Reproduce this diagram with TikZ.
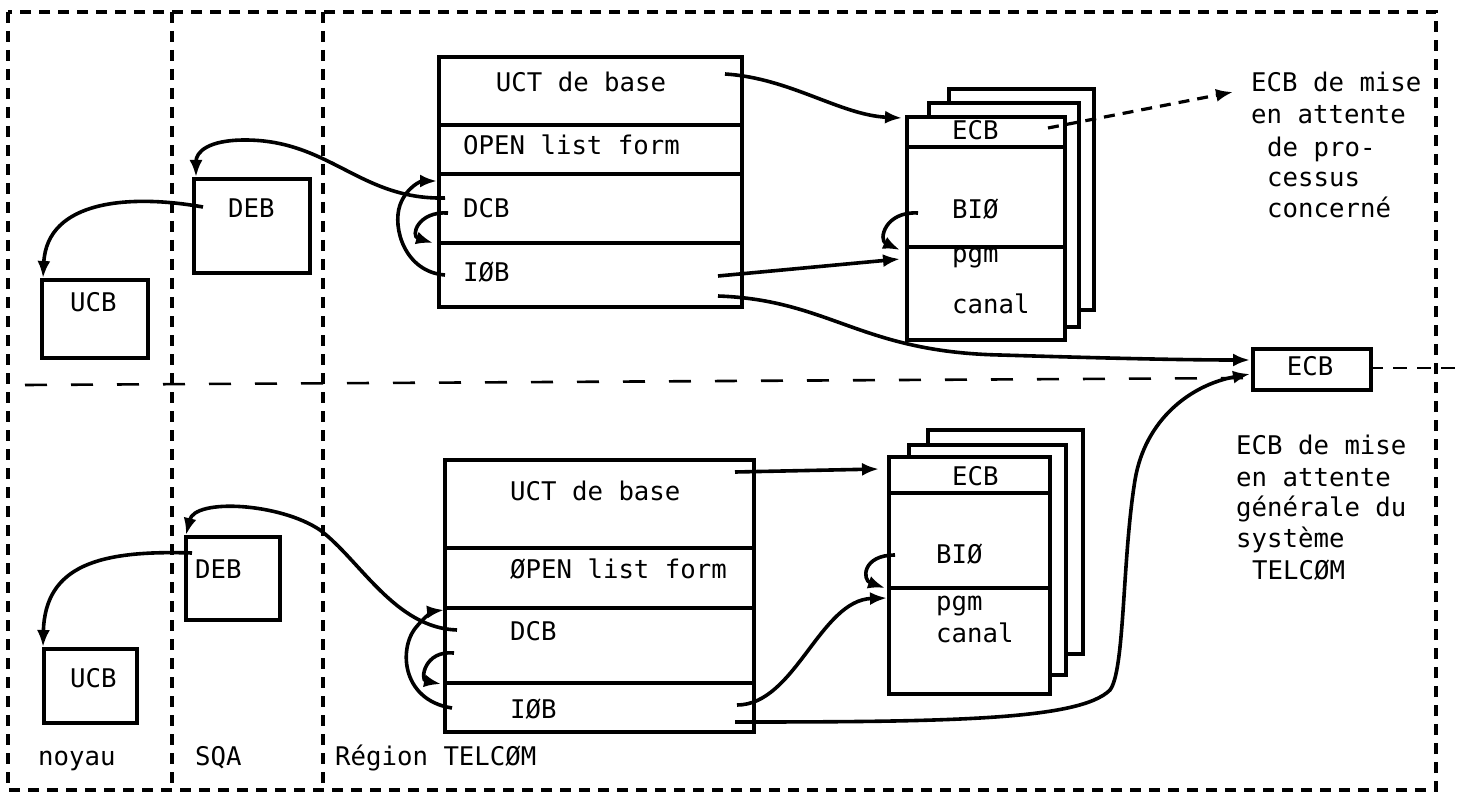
\documentclass[tikz,border=0pt]{standalone}
\usepackage{fontspec}
\setmainfont{DejaVu Sans Mono}
\usetikzlibrary{arrows.meta}
\begin{document}
\begin{tikzpicture}[x=1pt,y=-1pt,
  box/.style={draw,line width=3.6pt,fill=white,inner sep=0pt,anchor=north west},
  sep/.style={line width=3.6pt},
  lbl/.style={inner sep=0pt,anchor=base west,font=\fontsize{25.7}{31}\selectfont},
  clbl/.style={lbl,anchor=base},
  conn/.style={line width=3.6pt,-{Latex[length=17pt,width=13pt]}},
  dconn/.style={line width=3.2pt,dash pattern=on 11pt off 8pt,-{Latex[length=17pt,width=13pt]}},
  frame/.style={line width=3.6pt,dash pattern=on 11pt off 8pt},
  midline/.style={line width=2.6pt,dash pattern=on 22pt off 24pt},
  midline2/.style={line width=2.6pt,dash pattern=on 14pt off 10pt}]
\useasboundingbox (0,0) rectangle (1464,794);
% frame and separators
\draw[frame] (8,12) rectangle (1436,790);
\draw[frame] (172,12) -- (172,790);
\draw[frame] (323,12) -- (323,790);
\draw[midline] (25,385) -- (1251,378);
\draw[midline2] (1369,368) -- (1464,368);

% ---------- top half ----------
\node[box,minimum width=106,minimum height=78] (ucbA) at (40,278) {};
\node[box,minimum width=116,minimum height=94] (debA) at (192,177) {};
\node[box,minimum width=303,minimum height=250] (blkA) at (437,55) {};
\draw[sep] (437,125) -- (740,125) (437,174) -- (740,174) (437,243) -- (740,243);
\node[box,minimum width=145,minimum height=221] (pgA3) at (947,87) {};
\node[box,minimum width=150,minimum height=224] (pgA2) at (927,101) {};
\node[box,minimum width=158,minimum height=223] (pgA1) at (905,115) {};
\draw[sep] (905,147) -- (1063,147) (905,247) -- (1063,247);
\node[box,minimum width=118,minimum height=41] (ecbG) at (1251,347) {};

\node[lbl] (tUcb) at (70,312) {UCB};
\node[lbl] (tDeb) at (228,218) {DEB};
\node[clbl] (tUct) at (581,92) {UCT de base};
\node[lbl] (tOpen) at (463,155) {OPEN list form};
\node[lbl] (tDcb) at (463,218) {DCB};
\node[lbl] (tIob) at (463,282) {IØB};
\node[lbl] (tEcbA) at (952,140) {ECB};
\node[lbl] (tBioA) at (952,219) {BIØ};
\node[lbl] (tPgmA) at (952,263) {pgm};
\node[lbl] (tCanA) at (952,313) {canal};
\node[clbl] (tEcbG) at (1310,375) {ECB};
\node[lbl] (r1) at (1251,92) {ECB de mise};
\node[lbl] (r2) at (1251,124) {en attente};
\node[lbl] (r3) at (1267,157) {de pro-};
\node[lbl] (r4) at (1267,187) {cessus};
\node[lbl] (r5) at (1267,218) {concerné};

% ---------- bottom half ----------
\node[box,minimum width=93,minimum height=74] (ucbB) at (42,647) {};
\node[box,minimum width=94,minimum height=83] (debB) at (184,535) {};
\node[box,minimum width=309,minimum height=272] (blkB) at (443,458) {};
\draw[sep] (443,548) -- (752,548) (443,608) -- (752,608) (443,683) -- (752,683);
\node[box,minimum width=155,minimum height=224] (pgB3) at (926,428) {};
\node[box,minimum width=157,minimum height=230] (pgB2) at (907,443) {};
\node[box,minimum width=161,minimum height=237] (pgB1) at (887,455) {};
\draw[sep] (887,493) -- (1048,493) (887,588) -- (1048,588);

\node[lbl] (bUcb) at (70,687) {UCB};
\node[lbl] (bDeb) at (195,578) {DEB};
\node[lbl] (bUct) at (510,500) {UCT de base};
\node[lbl] (bOpen) at (510,578) {ØPEN list form};
\node[lbl] (bDcb) at (510,640) {DCB};
\node[lbl] (bIob) at (510,718) {IØB};
\node[lbl] (bEcb) at (952,485) {ECB};
\node[lbl] (bBio) at (936,563) {BIØ};
\node[lbl] (bPgm) at (936,610) {pgm};
\node[lbl] (bCan) at (936,642) {canal};
\node[lbl] (s1) at (1236,454) {ECB de mise};
\node[lbl] (s2) at (1236,486) {en attente};
\node[lbl] (s3) at (1236,516) {générale du};
\node[lbl] (s4) at (1236,547) {système};
\node[lbl] (s5) at (1252,579) {TELCØM};
\node[lbl] (zN) at (38,765) {noyau};
\node[lbl] (zS) at (195,765) {SQA};
\node[lbl] (zR) at (335,765) {Région TELCØM};

% ---------- connector end points ----------
\coordinate (aDcbOut) at (445,198);
\coordinate (aDebIn) at (196,177);
\coordinate (aIobOut) at (445,275);
\coordinate (aDcbIn) at (437,181);
\coordinate (aDcbOut2) at (448,213);
\coordinate (aIobIn) at (433,243);
\coordinate (aDebOut) at (203,207);
\coordinate (aUcbIn) at (43,278);
\coordinate (aUctOut) at (725,74);
\coordinate (aEcbIn) at (902,118);
\coordinate (aIobOut2) at (718,276);
\coordinate (aPgmIn) at (900,259);
\coordinate (aIobOut3) at (718,296);
\coordinate (aGIn) at (1250,360);
\coordinate (aBioOut) at (918,213);
\coordinate (aBioIn) at (900,250);
\coordinate (aEcbOut) at (1048,128);
\coordinate (aTxtIn) at (1233,92);

\coordinate (bDcbOut) at (457,630);
\coordinate (bDebIn) at (186,535);
\coordinate (bIobOut) at (452,708);
\coordinate (bDcbIn) at (444,610);
\coordinate (bDcbOut2) at (454,653);
\coordinate (bIobIn) at (441,684);
\coordinate (bDebOut) at (192,553);
\coordinate (bUcbIn) at (43,647);
\coordinate (bUctOut) at (735,472);
\coordinate (bEcbIn) at (879,469);
\coordinate (bIobOut2) at (737,705);
\coordinate (bPgmIn) at (887,598);
\coordinate (bIobOut3) at (735,722);
\coordinate (bGIn) at (1250,374);
\coordinate (bBioOut) at (895,555);
\coordinate (bBioIn) at (885,588);

% ---------- connectors top ----------
\draw[conn] (aDcbOut) .. controls (360,200) and (330,140) .. (245,140) .. controls (208,140) and (196,152) .. (aDebIn);
\draw[conn] (aIobOut) .. controls (405,272) and (392,228) .. (400,205) .. controls (407,186) and (422,181) .. (aDcbIn);
\draw[conn] (aDcbOut2) .. controls (418,211) and (410,236) .. (aIobIn);
\draw[conn] (aDebOut) .. controls (130,194) and (47,200) .. (aUcbIn);
\draw[conn] (aUctOut) .. controls (790,78) and (840,115) .. (aEcbIn);
\draw[conn] (aIobOut2) -- (aPgmIn);
\draw[conn] (aIobOut3) .. controls (830,300) and (860,352) .. (1000,355) .. controls (1100,358) and (1180,360) .. (aGIn);
\draw[conn] (aBioOut) .. controls (885,211) and (878,240) .. (aBioIn);
\draw[dconn] (aEcbOut) -- (aTxtIn);

% ---------- connectors bottom ----------
\draw[conn] (bDcbOut) .. controls (395,628) and (360,560) .. (320,530) .. controls (280,503) and (195,498) .. (bDebIn);
\draw[conn] (bIobOut) .. controls (400,700) and (398,645) .. (418,625) .. controls (426,615) and (435,611) .. (bDcbIn);
\draw[conn] (bDcbOut2) .. controls (424,650) and (420,680) .. (bIobIn);
\draw[conn] (bDebOut) .. controls (100,550) and (45,565) .. (bUcbIn);
\draw[conn] (bUctOut) -- (bEcbIn);
\draw[conn] (bIobOut2) .. controls (795,705) and (820,600) .. (bPgmIn);
\draw[conn] (bIobOut3) .. controls (950,722) and (1080,720) .. (1110,690) .. controls (1125,670) and (1122,560) .. (1135,480) .. controls (1145,420) and (1190,385) .. (bGIn);
\draw[conn] (bBioOut) .. controls (862,555) and (862,580) .. (bBioIn);
\end{tikzpicture}
\end{document}
